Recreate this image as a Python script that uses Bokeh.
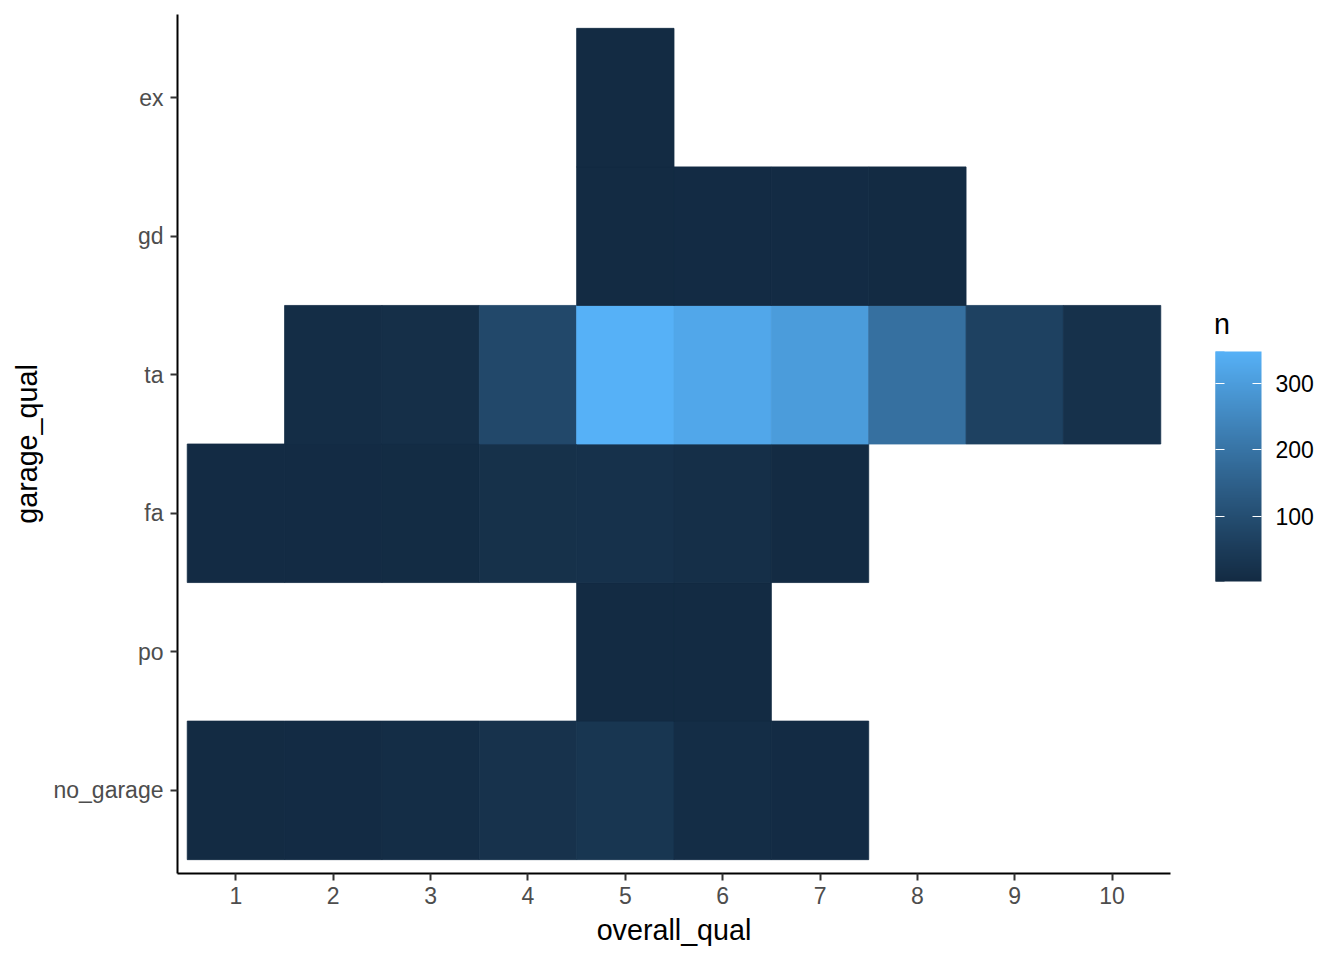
from bokeh.plotting import figure
from bokeh.models import (ColumnDataSource, Range1d, FixedTicker, LinearColorMapper,
                          ColorBar)
from bokeh.transform import transform
from bokeh.embed import file_html
from bokeh.resources import INLINE

# ---------------- data ----------------
overall_qual = [1, 2, 3, 4, 5, 6, 7, 8, 9, 10]
garage_qual = ["no_garage", "po", "fa", "ta", "gd", "ex"]   # bottom -> top

n_no_garage = [2, 3, 8, 22, 33, 8, 3, None, None, None]
n_po        = [None, None, None, None, 2, 2, None, None, None, None]
n_fa        = [3, 3, 5, 18, 20, 12, 2, None, None, None]
n_ta        = [None, 8, 12, 85, 349, 325, 298, 190, 65, 20]
n_gd        = [None, None, None, None, 2, 3, 3, 1, None, None]
n_ex        = [None, None, None, None, 1, None, None, None, None, None]

rows = {"no_garage": n_no_garage, "po": n_po, "fa": n_fa,
        "ta": n_ta, "gd": n_gd, "ex": n_ex}

legend_title = "n"
colorbar_ticks = [100, 200, 300]
low_hex, high_hex = "#132B43", "#56B1F7"

# ---------------- Lab gradient palette (like ggplot2) ----------------
def _to_lin(c):
    return c / 12.92 if c <= 0.04045 else ((c + 0.055) / 1.055) ** 2.4

def _to_srgb(c):
    c = max(0.0, min(1.0, c))
    return 12.92 * c if c <= 0.0031308 else 1.055 * c ** (1 / 2.4) - 0.055

WX, WY, WZ = 0.95047, 1.0, 1.08883

def hex_to_lab(h):
    r, g, b = (int(h[i:i + 2], 16) / 255 for i in (1, 3, 5))
    r, g, b = _to_lin(r), _to_lin(g), _to_lin(b)
    X = 0.4124 * r + 0.3576 * g + 0.1805 * b
    Y = 0.2126 * r + 0.7152 * g + 0.0722 * b
    Z = 0.0193 * r + 0.1192 * g + 0.9505 * b
    def f(t):
        return t ** (1 / 3) if t > 0.008856 else 7.787 * t + 16 / 116
    fx, fy, fz = f(X / WX), f(Y / WY), f(Z / WZ)
    return 116 * fy - 16, 500 * (fx - fy), 200 * (fy - fz)

def lab_to_hex(L, a, b):
    fy = (L + 16) / 116
    fx = fy + a / 500
    fz = fy - b / 200
    def finv(t):
        return t ** 3 if t ** 3 > 0.008856 else (t - 16 / 116) / 7.787
    X, Y, Z = WX * finv(fx), WY * finv(fy), WZ * finv(fz)
    r = 3.2406 * X - 1.5372 * Y - 0.4986 * Z
    g = -0.9689 * X + 1.8758 * Y + 0.0415 * Z
    bl = 0.0557 * X - 0.2040 * Y + 1.0570 * Z
    return "#%02x%02x%02x" % tuple(int(round(_to_srgb(c) * 255)) for c in (r, g, bl))

l0, l1 = hex_to_lab(low_hex), hex_to_lab(high_hex)
palette = [lab_to_hex(*(l0[k] + (l1[k] - l0[k]) * i / 255 for k in range(3)))
           for i in range(256)]

# ---------------- long table ----------------
xs, ys, ns = [], [], []
for yi, g in enumerate(garage_qual):
    for xi, q in enumerate(overall_qual):
        v = rows[g][xi]
        if v is not None:
            xs.append(q)
            ys.append(yi + 1)
            ns.append(v)
src = ColumnDataSource(dict(x=xs, y=ys, n=ns))

mapper = LinearColorMapper(palette=palette, low=min(ns), high=max(ns))

FONT = "Liberation Sans"

W, H = 1340, 956
FL, FR, FT, FB = 177, 1170, 14, 873   # frame edges in page pixels
X0, X1 = 0.4, len(overall_qual) + 0.6
Y0, Y1 = 0.4, len(garage_qual) + 0.6

p = figure(width=W, height=H,
           x_range=Range1d(X0, X1), y_range=Range1d(Y0, Y1),
           output_backend="svg", toolbar_location=None,
           min_border_left=FL, min_border_right=W - FR,
           min_border_top=FT, min_border_bottom=H - FB)
p.outline_line_color = None
p.xgrid.visible = False
p.ygrid.visible = False
p.background_fill_color = "white"
p.border_fill_color = "white"

p.rect(x="x", y="y", width=1, height=1, source=src,
       fill_color=transform("n", mapper), line_color=transform("n", mapper),
       line_width=0.8)

# axes
p.xaxis.ticker = FixedTicker(ticks=overall_qual)
p.yaxis.ticker = FixedTicker(ticks=list(range(1, len(garage_qual) + 1)))
p.yaxis.major_label_overrides = {i + 1: g for i, g in enumerate(garage_qual)}
p.xaxis.axis_label = "overall_qual"
p.yaxis.axis_label = "garage_qual"

for ax in (p.xaxis[0], p.yaxis[0]):
    ax.axis_line_color = "black"
    ax.axis_line_width = 2
    ax.major_tick_line_color = "#333333"
    ax.major_tick_line_width = 2
    ax.major_tick_out = 7
    ax.major_tick_in = 0
    ax.minor_tick_line_color = None
    ax.major_label_text_font = FONT
    ax.major_label_text_font_size = "23px"
    ax.major_label_text_color = "#4D4D4D"
    ax.axis_label_text_font = FONT
    ax.axis_label_text_font_size = "28.7px"
    ax.axis_label_text_font_style = "normal"
    ax.axis_label_text_color = "black"

p.xaxis.major_label_standoff = 6
p.yaxis.major_label_standoff = 7
p.xaxis.axis_label_standoff = 7
p.yaxis.axis_label_standoff = 8

# colour bar (placed in the centre panel, offset from the frame's bottom-left)
BAR_L, BAR_B, BAR_W, BAR_H = 1215, 581, 46, 230
loc = (BAR_L - FL, FB - BAR_B)

cb = ColorBar(color_mapper=mapper, ticker=FixedTicker(ticks=colorbar_ticks),
              width=BAR_W, height=BAR_H, title=None,
              major_label_text_font=FONT, major_label_text_font_size="23px",
              major_label_text_color="black",
              label_standoff=14,
              major_tick_in=9, major_tick_out=0,
              major_tick_line_color="white", major_tick_line_width=1.2,
              minor_tick_line_color=None,
              bar_line_color=None, border_line_color=None,
              background_fill_color=None,
              padding=0, margin=0, location=loc)
p.add_layout(cb, "center")

# narrow overlay bar on the left edge, only to draw the left-hand ticks
cb2 = ColorBar(color_mapper=mapper, ticker=FixedTicker(ticks=colorbar_ticks),
               width=9, height=BAR_H, title=None,
               major_label_text_alpha=0, major_label_text_font_size="23px",
               label_standoff=14,
               major_tick_in=9, major_tick_out=0,
               major_tick_line_color="white", major_tick_line_width=1.2,
               minor_tick_line_color=None,
               bar_line_color=None, border_line_color=None,
               background_fill_color=None,
               padding=0, margin=0, location=loc)
p.add_layout(cb2, "center")

# legend title "n" above the bar, drawn as the single label of an invisible bar
TITLE_X, TITLE_MID_Y, HOLDER_H = 1213.5, 323, 40
title_holder = ColorBar(color_mapper=LinearColorMapper(palette=["#ffffff"], low=0, high=2),
                        ticker=FixedTicker(ticks=[1]),
                        major_label_overrides={1: legend_title},
                        width=1, height=HOLDER_H, title=None, scale_alpha=0,
                        major_label_text_font=FONT, major_label_text_font_size="28.7px",
                        major_label_text_color="black",
                        label_standoff=0, major_tick_in=0, major_tick_out=0,
                        major_tick_line_color=None, minor_tick_line_color=None,
                        bar_line_color=None, border_line_color=None,
                        background_fill_color=None, padding=0, margin=0,
                        location=(TITLE_X - 1 - FL, FB - (TITLE_MID_Y + HOLDER_H / 2)))
p.add_layout(title_holder, "center")

open("out.html", "w").write(file_html(p, INLINE))
